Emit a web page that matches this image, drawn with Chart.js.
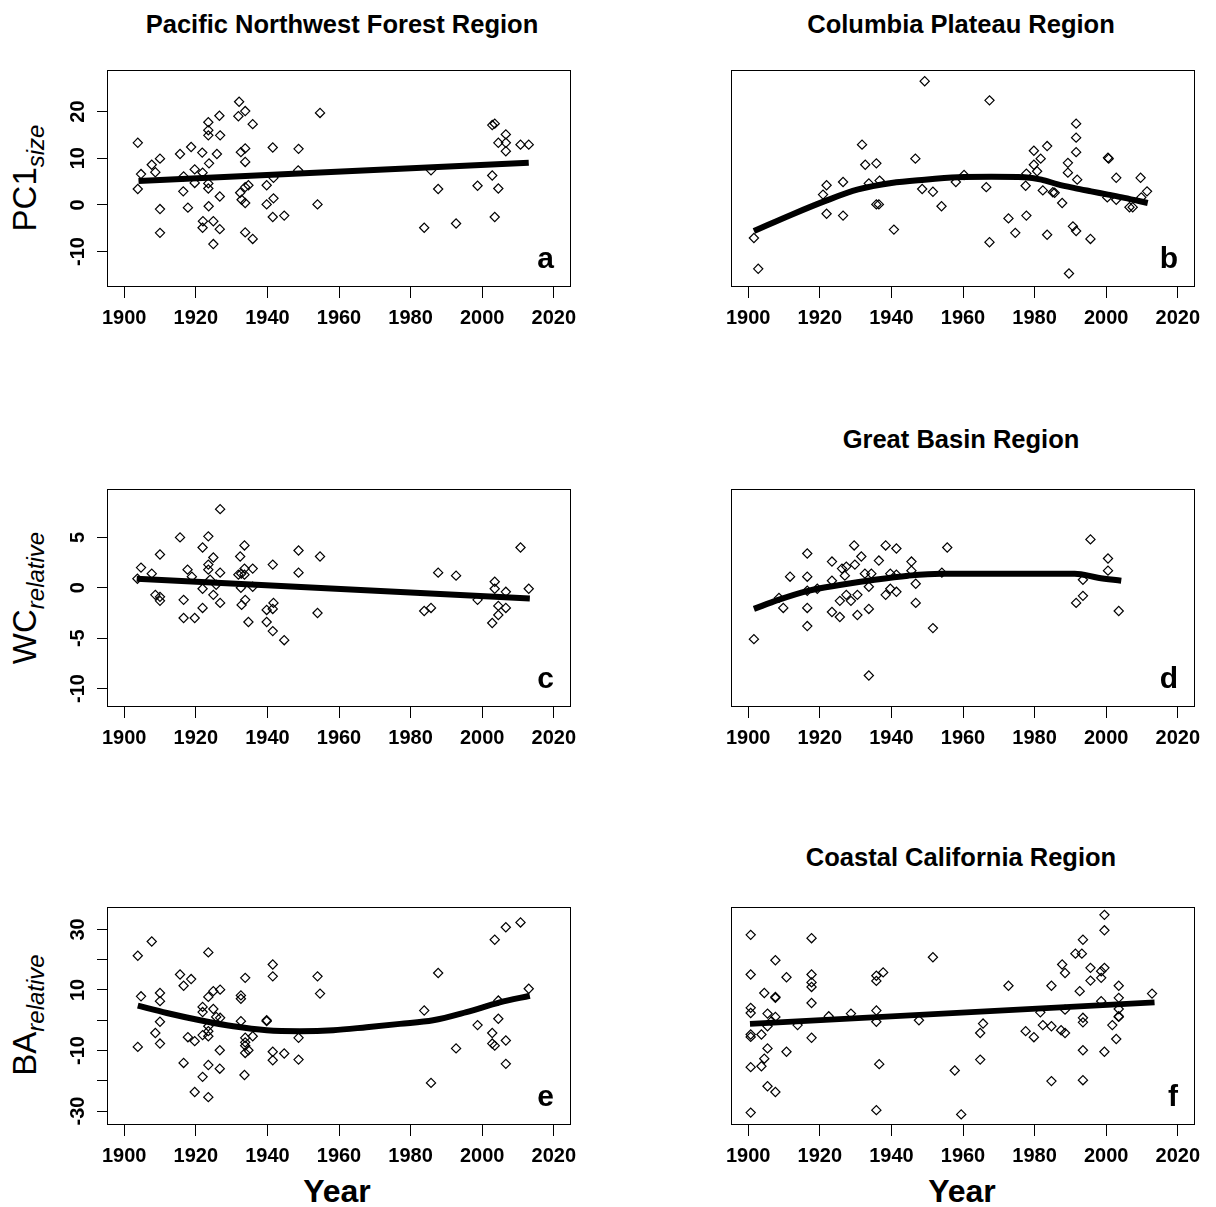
<!DOCTYPE html>
<html>
<head>
<meta charset="utf-8">
<script src="https://cdn.jsdelivr.net/npm/chart.js@4.4.0/dist/chart.umd.min.js"></script>
<style>
  body { margin: 0; background: #fff; }
  #page { position: relative; width: 1216px; height: 1207px; overflow: hidden; font-family: "Liberation Sans", Arial, sans-serif; color: #000; }
  canvas { position: absolute; }
  .title { position: absolute; font-weight: bold; font-size: 25.5px; line-height: 26px; white-space: nowrap; transform: translateX(-50%); }
  .xlab { position: absolute; font-weight: bold; font-size: 32px; line-height: 32px; white-space: nowrap; transform: translateX(-50%); }
  .ylab { position: absolute; font-size: 33px; line-height: 33px; white-space: nowrap; transform: translate(-50%, -50%) rotate(-90deg); }
  .ylab span { font-size: 24px; font-style: italic; position: relative; top: 8px; }
</style>
</head>
<body>
<div id="page">
  <div class="title" style="left:342px; top:11px">Pacific Northwest Forest Region</div>
  <div class="title" style="left:961px; top:11px">Columbia Plateau Region</div>
  <div class="title" style="left:961px; top:426px">Great Basin Region</div>
  <div class="title" style="left:961px; top:844px">Coastal California Region</div>

  <div class="ylab" style="left:26px; top:178px">PC1<span>size</span></div>
  <div class="ylab" style="left:26px; top:598px">WC<span>relative</span></div>
  <div class="ylab" style="left:26px; top:1015px">BA<span>relative</span></div>

  <div class="xlab" style="left:337px; top:1175px">Year</div>
  <div class="xlab" style="left:962px; top:1175px">Year</div>

  <canvas id="pa"></canvas>
  <canvas id="pb"></canvas>
  <canvas id="pc"></canvas>
  <canvas id="pd"></canvas>
  <canvas id="pe"></canvas>
  <canvas id="pf"></canvas>
</div>

<script>
// ---- data ----
var yearTicks = [1900, 1920, 1940, 1960, 1980, 2000, 2020];

// a: Pacific Northwest Forest, PC1 size
var aYear = [1903.8,1904.7,1903.8,1907.7,1908.7,1910,1910,1910,1915.6,1918.7,1916.6,1916.5,1917.8,1919.7,1919.7,1921.8,1921.9,1922,1921.9,1923.5,1923.5,1923.5,1923.7,1923.5,1923.5,1923.6,1924.9,1924.9,1925.9,1926.6,1926.8,1926.7,1926.7,1932.1,1931.9,1933.8,1935.9,1932.6,1933.8,1933.8,1932.4,1932.8,1933.8,1934.7,1933.8,1933.8,1935.9,1941.5,1939.8,1941.7,1941.7,1939.8,1941.5,1944.7,1948.7,1948.6,1954,1954.7,1985.7,1987.7,1983.8,1992.7,1998.7,2002.8,2002.8,2003.5,2004.5,2003.5,2006.6,2004.5,2006.6,2006.6,2010.7,2013];
var aVal = [13.3,6.6,3.4,8.6,7.0,9.9,-0.9,-6.0,10.9,12.4,6.1,2.9,-0.6,7.6,4.7,11.2,6.9,-3.5,-4.9,17.7,16.0,14.9,8.9,4.6,3.5,-0.3,-3.5,-8.4,10.9,19.1,14.9,1.8,-5.2,22.1,19.0,20.1,17.3,11.3,12.1,9.2,2.6,1.1,3.8,4.2,0.4,-5.9,-7.3,12.3,4.2,5.8,1.4,0.1,-2.6,-2.3,12.0,7.4,0.1,19.7,7.4,3.4,-4.9,-4.0,4.1,6.3,17.1,17.4,3.5,-2.6,15.1,13.3,13.3,11.5,12.9,12.9];
var aFitYear = [1904, 2013];
var aFitVal = [5.1, 9.0];

// b: Columbia Plateau, PC1 size
var bYear = [1901.6,1902.8,1920.9,1921.9,1921.9,1926.5,1926.5,1931.8,1932.7,1933.7,1935.8,1936.7,1935.8,1936.5,1940.7,1946.7,1949.3,1948.6,1951.6,1954,1958,1960.3,1966.5,1967.4,1967.4,1972.7,1974.6,1977.7,1977.5,1977.7,1979.8,1979.8,1980.7,1981.7,1982.3,1983.5,1985.1,1985.6,1983.5,1987.7,1989.3,1989.3,1989.6,1990.7,1991.6,1991.6,1991.6,1991.6,1991.9,1995.6,2000.5,2000.7,2002.8,2000.3,2002.8,2006.5,2007.4,2009.6,2011.4,2009.8];
var bVal = [-7.1,-13.7,2.2,4.2,-1.9,4.9,-2.3,12.9,8.6,4.6,8.9,5.2,0.1,0.1,-5.3,9.9,26.5,3.4,2.8,-0.3,4.9,6.4,3.8,22.4,-8.0,-2.9,-6.0,6.7,4.1,-2.3,11.6,8.6,7.2,9.9,3.1,12.6,2.7,2.6,-6.4,0.4,9.0,6.9,-14.7,-4.6,-5.6,17.4,14.4,11.3,5.4,-7.3,10.1,9.9,5.8,1.6,1.1,-0.5,-0.5,5.8,2.9,1.6];
var bFitYear = [1901.6,1912.1,1921.4,1930.7,1940,1949.3,1958.6,1967.9,1977.2,1981.9,1986.5,1991.2,1995.8,2000.5,2005.1,2011.6];
var bFitVal = [-5.6,-2.1,0.8,3.3,4.7,5.4,5.9,6.0,5.9,5.4,4.4,3.6,2.9,2.2,1.5,0.4];

// c: Pacific Northwest Forest, WC relative
var cYear = [1903.7,1904.7,1907.7,1908.7,1910,1910,1910,1915.6,1917.7,1918.9,1916.6,1916.6,1919.7,1921.9,1923.5,1924.9,1923.5,1923.5,1924,1921.9,1924.9,1921.9,1926.8,1926.8,1926.8,1925.7,1932.4,1933.6,1932.7,1933.6,1931.9,1933.6,1932.6,1933.8,1932.8,1935.9,1935.9,1934.7,1941.5,1939.8,1941.7,1941.5,1939.8,1941.5,1944.7,1948.7,1948.7,1954,1954.7,1983.8,1985.7,1987.7,1992.7,1998.7,2002.8,2003.5,2003.5,2004.5,2004.5,2006.6,2006.6,2010.7,2013];
var cVal = [0.9,2.0,1.4,-0.7,-0.9,-1.3,3.3,5.0,1.8,1.1,-1.2,-3.0,-3.0,4.0,5.1,3.0,2.3,1.8,0.8,-0.1,-0.7,-2.0,1.5,-1.5,7.8,0.3,3.1,4.2,1.4,1.9,1.3,1.3,0,-1.2,-1.7,1.9,0.1,-3.4,2.3,-2.2,-1.5,-2.1,-3.4,-4.3,-5.2,3.7,1.5,-2.5,3.1,-2.3,-2.0,1.5,1.2,-1.2,-3.5,0.6,-0.1,-1.8,-2.7,-0.4,-2.0,4.0,-0.1];
var cFitYear = [1903.5, 2013.3];
var cFitVal = [0.9, -1.06];

// d: Great Basin, WC relative
var dYear = [1901.6,1908.6,1909.8,1911.7,1916.5,1916.5,1916.5,1916.5,1916.5,1919.3,1923.4,1923.4,1923.4,1925.6,1925.6,1926.2,1927,1927.4,1927.4,1928.7,1929.6,1929.8,1930.5,1930.5,1931.6,1932.6,1933.7,1933.7,1933.7,1934.4,1936.5,1938.4,1938.4,1939.7,1939.7,1941.4,1941.4,1941.4,1945.6,1945.6,1946.8,1946.8,1951.6,1955.6,1954.1,1991.6,1993.5,1993.5,1995.6,2000.5,2000.5,2003.5];
var dVal = [-5.1,-1.0,-2.0,1.1,3.4,1.1,-0.3,-2.0,-3.8,-0.1,2.6,0.7,-2.4,-2.9,-1.3,1.9,1.2,2.1,-0.7,-1.3,4.2,2.3,-0.7,-2.7,3.1,1.4,0.1,-2.1,-8.7,1.4,2.7,4.2,-0.7,1.4,-0.1,3.9,-0.4,1.3,2.6,1.7,0.4,-1.5,-4.0,4.0,1.5,-1.5,-0.8,0.8,4.8,2.9,1.7,-2.3];
var dFitYear = [1901.6,1908.4,1916.7,1926,1935.3,1944.7,1954,1963.3,1977.2,1991.2,1997.7,2004.2];
var dFitVal = [-2.1,-1.2,-0.3,0.3,0.8,1.2,1.4,1.4,1.4,1.4,1.0,0.7];

// e: Pacific Northwest Forest, BA relative
var eYear = [1903.8,1904.7,1903.8,1907.7,1910,1910,1910,1908.7,1910,1915.6,1916.6,1918.7,1917.8,1919.7,1916.6,1919.7,1921.9,1921.9,1921.9,1921.9,1923.5,1923.5,1923.5,1923.5,1923.5,1923.5,1923.5,1924.9,1924.9,1925.7,1926.8,1926.8,1926.7,1926.7,1932.6,1932.6,1932.6,1933.8,1933.8,1933.8,1933.8,1933.8,1934.7,1933.6,1935.9,1939.8,1939.8,1941.5,1941.5,1941.5,1941.5,1944.7,1948.7,1948.7,1954,1954.7,1983.8,1987.7,1985.7,1992.7,1998.7,2002.8,2002.8,2003.5,2003.5,2004.5,2004.5,2006.6,2006.6,2006.6,2010.7,2013];
var eVal = [21.3,7.9,-8.8,26.0,9.0,6.3,-0.5,-4.2,-7.7,15.1,11.4,13.6,-5.6,-6.9,-14.1,-23.7,4.4,2.7,-4.9,-18.7,22.4,7.7,-2.0,-3.6,-5.3,-14.8,-25.4,9.6,3.7,1.1,10.1,0.8,-9.9,-16.0,8.2,7.1,-0.3,14.0,-5.8,-7.3,-8.4,-10.8,-9.9,-18.1,-5.3,0,-0.3,18.4,14.5,-10.4,-13.2,-11.0,-5.8,-13.0,14.5,8.8,3.2,15.6,-20.7,-9.3,-1.6,-4.2,-7.7,-8.4,26.6,6.5,0.5,30.7,-6.7,-14.4,32.3,10.4];
var eFitYear = [1903.8,1911.9,1921.2,1930.5,1939.8,1949.1,1958.4,1967.7,1977,1986.3,1995.6,2004.9,2013.3];
var eFitVal = [4.8,2.4,0,-2.0,-3.3,-3.6,-3.3,-2.3,-1.2,0,2.7,5.9,8.1];

// f: Coastal California, BA relative
var fYear = [1900.7,1900.7,1900.7,1900.7,1900.7,1900.7,1900.7,1900.7,1903.7,1903.7,1904.5,1904.5,1905.4,1905.4,1905.4,1905.4,1907.6,1907.6,1907.6,1907.6,1907.6,1906.5,1910.7,1910.7,1913.8,1917.7,1917.7,1917.7,1917.7,1917.7,1917.7,1922.5,1928.7,1935.8,1935.8,1937.7,1935.8,1935.8,1936.6,1935.8,1947.7,1951.6,1957.7,1959.5,1964.8,1965.6,1964.8,1972.7,1977.5,1979.8,1981.6,1982.3,1984.7,1984.7,1984.7,1987.7,1988.5,1987.4,1988.5,1988.5,1991.4,1993.2,1993.5,1992.6,1993.5,1993.5,1993.5,1993.5,1995.6,1995.6,1998.6,1998.6,1999.5,1999.5,1999.5,1999.5,1998.6,2001.7,2002.8,2003.5,2003.5,2003.5,2003.5,2003.5,2012.8];
var fVal = [28.2,15.1,4.1,2.4,-4.7,-5.5,-15.5,-30.5,-4.7,-15.2,9.0,-12.7,2.2,-2.0,-9.3,-21.8,19.8,7.7,7.4,1.1,-23.7,-0.3,14.2,-10.4,-1.6,27.1,15.1,12.5,11.0,5.7,-5.8,1.3,2.2,14.7,13.0,15.8,3.2,-0.5,-14.5,-29.7,0,20.8,-16.6,-31.1,-4.2,-1.1,-13.0,11.4,-3.6,-5.6,2.6,-1.6,-2.0,11.4,-20.1,18.4,15.6,-3.3,-4.2,3.5,22.0,22.0,26.6,9.6,0.8,-0.7,-9.9,-19.8,17.3,13.1,14.0,16.2,17.3,29.7,34.8,-10.4,6.3,-1.6,-6.2,11.4,7.4,3.7,1.3,1.1,8.8];
var fFitYear = [1900.5, 2013.5];
var fFitVal = [-1.2, 5.9];

// y axis ticks per row
var pcTicks = [-10, 0, 10, 20];
var pcTickLabels = ['-10', '0', '10', '20'];
var wcTicks = [-10, -5, 0, 5];
var wcTickLabels = ['-10', '-5', '0', '5'];
var baTicks = [-30, -20, -10, 0, 10, 20, 30];
var baTickLabels = ['-30', '', '-10', '', '10', '', '30'];

// ---- layout ----
var xRange = [1895.2, 2024.8];
var pcRange = [-17.6, 28.9];
var wcRange = [-11.83, 9.8];
var baRange = [-34.6, 37.4];

var FONT = '"Liberation Sans", Arial, sans-serif';
var LEFT_W = 100, TOP_P = 30, RIGHT_P = 20, BOTTOM_H = 50;

function pairs(xs, ys) {
	var out = [];
	for (var i = 0; i < xs.length; i++) out.push({x: xs[i], y: ys[i]});
	return out;
}

var framePlugin = {
	id: 'frame',
	afterDatasetsDraw: function(chart, args, opts) {
		var ctx = chart.ctx, a = chart.chartArea;
		ctx.save();
		ctx.strokeStyle = '#000';
		ctx.lineWidth = 1;
		ctx.strokeRect(a.left + 0.5, a.top + 0.5, a.right - a.left - 1, a.bottom - a.top - 1);
		ctx.fillStyle = '#000';
		ctx.font = 'bold 30px ' + FONT;
		ctx.textAlign = 'right';
		ctx.textBaseline = 'alphabetic';
		ctx.fillText(opts.letter, a.right - 17, a.bottom - 19);
		ctx.restore();
	}
};

function makePanel(id, box, letter, xs, ys, fitX, fitY, yRange, yTicks, yLabels, showY, curved) {
	var cv = document.getElementById(id);
	var w = (box.R - box.L) + LEFT_W + RIGHT_P;
	var h = (box.B - box.T) + TOP_P + BOTTOM_H;
	cv.width = w; cv.height = h;
	cv.style.left = (box.L - LEFT_W) + 'px';
	cv.style.top = (box.T - TOP_P) + 'px';
	cv.style.width = w + 'px';
	cv.style.height = h + 'px';

	var tickFont = {family: FONT, size: 20, weight: 'bold'};

	return new Chart(cv, {
		type: 'scatter',
		data: {
			datasets: [{
				data: pairs(fitX, fitY),
				showLine: true,
				borderColor: '#000',
				borderWidth: 6,
				pointRadius: 0,
				cubicInterpolationMode: curved ? 'monotone' : 'default',
				tension: 0,
				order: 0
			}, {
				data: pairs(xs, ys),
				showLine: false,
				pointStyle: 'rectRot',
				pointRadius: 4.6,
				borderWidth: 1.2,
				borderColor: '#000',
				backgroundColor: 'rgba(0,0,0,0)',
				order: 1
			}]
		},
		options: {
			responsive: false,
			animation: false,
			devicePixelRatio: 1,
			layout: {padding: {left: 0, top: TOP_P, right: RIGHT_P, bottom: 0}},
			plugins: {
				legend: {display: false},
				tooltip: {enabled: false},
				frame: {letter: letter}
			},
			scales: {
				x: {
					type: 'linear',
					position: 'bottom',
					min: xRange[0],
					max: xRange[1],
					afterBuildTicks: function(s) { s.ticks = yearTicks.map(function(v) { return {value: v}; }); },
					afterFit: function(s) { s.height = BOTTOM_H; },
					ticks: {
						font: tickFont, color: '#000', padding: 8, maxRotation: 0, autoSkip: false,
						callback: function(v) { return String(v); }
					},
					grid: {drawOnChartArea: false, color: '#000', tickLength: 11},
					border: {display: false}
				},
				y: {
					type: 'linear',
					min: yRange[0],
					max: yRange[1],
					afterBuildTicks: function(s) { s.ticks = yTicks.map(function(v) { return {value: v}; }); },
					afterFit: function(s) { s.width = LEFT_W; },
					ticks: {
						display: showY,
						font: tickFont, color: '#000', padding: 4, autoSkip: false,
						minRotation: 90, maxRotation: 90, crossAlign: 'center',
						callback: function(v, i) { return yLabels[i]; }
					},
					grid: {display: showY, drawOnChartArea: false, color: '#000', tickLength: 10},
					border: {display: false}
				}
			}
		},
		plugins: [framePlugin]
	});
}

var boxes = {
	a: {L: 107, T: 70, R: 571, B: 287},
	b: {L: 731, T: 70, R: 1195, B: 287},
	c: {L: 107, T: 489, R: 571, B: 707},
	d: {L: 731, T: 489, R: 1195, B: 707},
	e: {L: 107, T: 907, R: 571, B: 1125},
	f: {L: 731, T: 907, R: 1195, B: 1125}
};

makePanel('pa', boxes.a, 'a', aYear, aVal, aFitYear, aFitVal, pcRange, pcTicks, pcTickLabels, true, false);
makePanel('pb', boxes.b, 'b', bYear, bVal, bFitYear, bFitVal, pcRange, pcTicks, pcTickLabels, false, true);
makePanel('pc', boxes.c, 'c', cYear, cVal, cFitYear, cFitVal, wcRange, wcTicks, wcTickLabels, true, false);
makePanel('pd', boxes.d, 'd', dYear, dVal, dFitYear, dFitVal, wcRange, wcTicks, wcTickLabels, false, true);
makePanel('pe', boxes.e, 'e', eYear, eVal, eFitYear, eFitVal, baRange, baTicks, baTickLabels, true, true);
makePanel('pf', boxes.f, 'f', fYear, fVal, fFitYear, fFitVal, baRange, baTicks, baTickLabels, false, false);
</script>
</body>
</html>
